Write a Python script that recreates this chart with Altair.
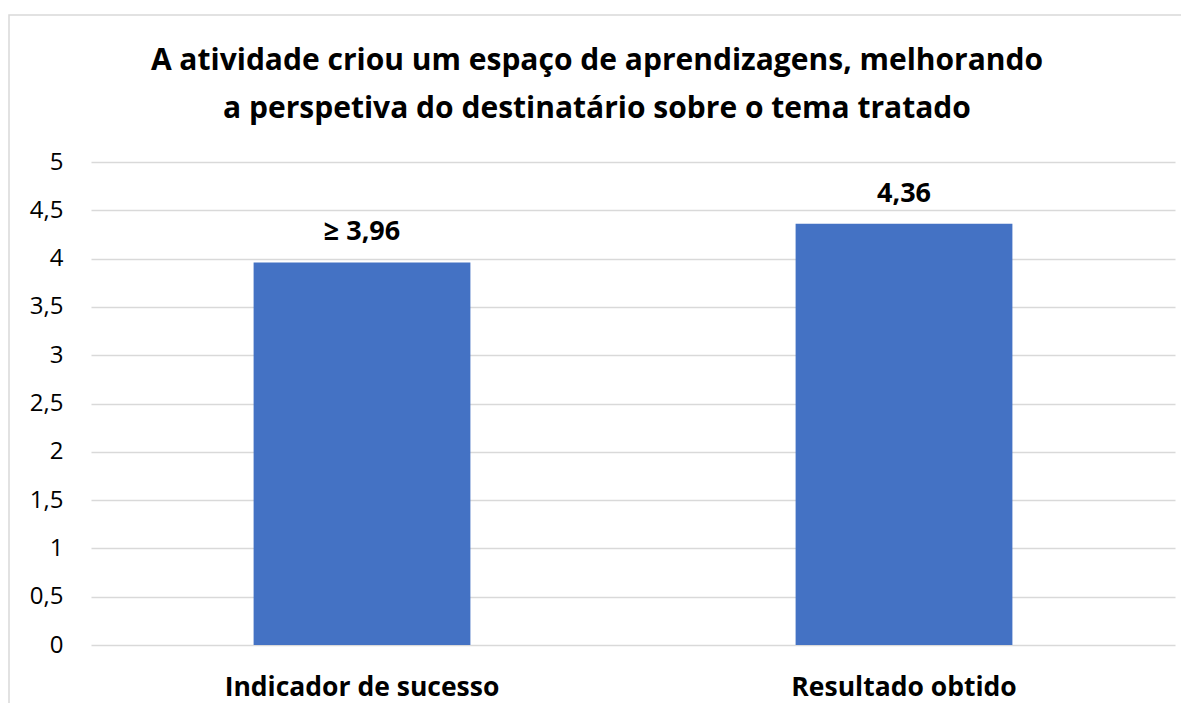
import altair as alt
import pandas as pd

categories = ["Indicador de sucesso", "Resultado obtido"]
values = [3.96, 4.36]
value_labels = ["≥ 3,96", "4,36"]
title_lines = ["A atividade criou um espaço de aprendizagens, melhorando",
               "a perspetiva do destinatário sobre o tema tratado"]

df = pd.DataFrame({"cat": categories, "val": values, "lab": value_labels})
title_df = pd.DataFrame({"t": [0]})

FONT = "Open Sans"

base = alt.Chart(df)

border = alt.Chart(title_df).mark_rect(fill=None, stroke="#d9d9d9", strokeWidth=1.5).encode(
    x=alt.value(-82), x2=alt.value(1200), y=alt.value(-147), y2=alt.value(700)
)

title = alt.Chart(title_df).mark_text(
    font=FONT, fontSize=30, fontWeight="bold", color="#000000",
    align="center", baseline="alphabetic", lineHeight=48,
).encode(
    x=alt.value(506), y=alt.value(-92), text=alt.value(title_lines)
)

bars = base.mark_bar(color="#4472C4").encode(
    x=alt.X("cat:N", sort=categories, title=None,
            scale=alt.Scale(paddingInner=0.6, paddingOuter=0.3),
            axis=alt.Axis(labelAngle=0, labelFontSize=26.5, labelFontWeight="bold",
                          labelColor="#000000", labelFont=FONT, labelPadding=50,
                          labelBaseline="alphabetic", labelLimit=600,
                          domain=False, ticks=False, grid=False)),
    y=alt.Y("val:Q", title=None,
            scale=alt.Scale(domain=[0, 5], nice=False),
            axis=alt.Axis(values=[0, 0.5, 1, 1.5, 2, 2.5, 3, 3.5, 4, 4.5, 5],
                          labelExpr="replace(format(datum.value, '~g'), '.', ',')",
                          labelFontSize=24, labelColor="#000000", labelFont=FONT,
                          labelPadding=28, domain=False, ticks=False,
                          grid=True, gridColor="#d9d9d9", gridWidth=1.5)),
)

text = base.mark_text(dy=-22, fontSize=27, fontWeight="bold", font=FONT,
                      color="#000000", baseline="alphabetic").encode(
    x=alt.X("cat:N", sort=categories),
    y=alt.Y("val:Q"),
    text="lab:N",
)

chart = alt.layer(border, title, bars, text).properties(
    width=1084, height=483,
    autosize=alt.AutoSizeParams(type="none"),
    padding={"left": 83, "top": 154, "right": 6, "bottom": 58},
    background="white",
).configure_view(stroke=None)

chart.save("out.html", embed_options={"renderer": "svg", "actions": False})
